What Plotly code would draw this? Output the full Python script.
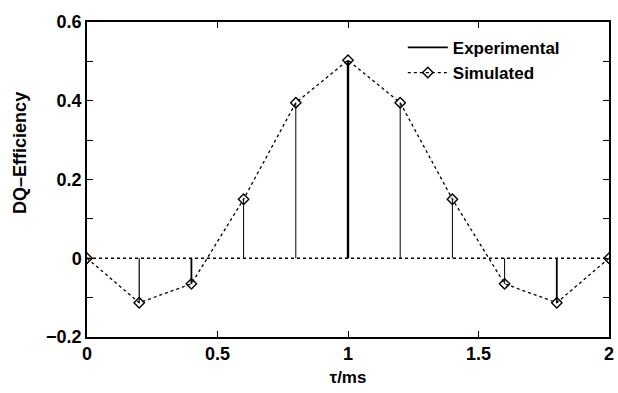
import plotly.graph_objects as go

tau = [0.0, 0.2, 0.4, 0.6, 0.8, 1.0, 1.2, 1.4, 1.6, 1.8, 2.0]
simulated = [0.0, -0.113, -0.065, 0.15, 0.395, 0.503, 0.395, 0.15, -0.065, -0.113, 0.0]
experimental = [0.0, -0.113, -0.065, 0.15, 0.395, 0.503, 0.395, 0.15, -0.065, -0.113, 0.0]
exp_widths = [1, 1.2, 1.8, 1, 1, 2.4, 1, 1, 1, 1.8, 1]

x_ticks = [0, 0.5, 1, 1.5, 2]
x_labels = ["0", "0.5", "1", "1.5", "2"]
y_ticks = [-0.2, 0, 0.2, 0.4, 0.6]
y_labels = ["\u22120.2", "0", "0.2", "0.4", "0.6"]

FONT = "Liberation Sans, Arial, sans-serif"

fig = go.Figure()

# zero dotted baseline
fig.add_trace(go.Scatter(x=[tau[0], tau[-1]], y=[0, 0], mode="lines",
                         line=dict(color="black", width=1.3, dash="dot"),
                         showlegend=False, hoverinfo="skip"))

# experimental stems
for i, (t, v) in enumerate(zip(tau, experimental)):
    fig.add_trace(go.Scatter(x=[t, t], y=[0, v], mode="lines",
                             line=dict(color="black", width=exp_widths[i]),
                             name="Experimental", legendgroup="exp",
                             showlegend=False))

# legend entry for experimental
fig.add_trace(go.Scatter(x=[None], y=[None], mode="lines",
                         line=dict(color="black", width=1.8),
                         name="<b>Experimental</b>", showlegend=True))

fig.add_trace(go.Scatter(x=tau, y=simulated, mode="lines+markers",
                         line=dict(color="black", width=1.3, dash="dot"),
                         marker=dict(symbol="diamond-open", size=8, color="black",
                                     line=dict(width=1.4, color="black")),
                         name="<b>Simulated</b>"))

axis_common = dict(showline=True, linecolor="black", linewidth=1.5, mirror="allticks",
                   ticks="inside", ticklen=6, tickwidth=1, tickcolor="black",
                   showgrid=False, zeroline=False, automargin=False,
                   tickfont=dict(family=FONT, size=18, color="black"))

fig.update_xaxes(range=[0, 2], tickvals=x_ticks,
                 ticktext=["<b>%s</b>" % s for s in x_labels],
                 title=dict(text="<b>\u03c4/ms</b>", font=dict(family=FONT, size=17, color="black"),
                            standoff=8),
                 **axis_common)
fig.update_yaxes(range=[-0.2, 0.6], tickvals=y_ticks,
                 ticktext=["<b>%s</b>" % s for s in y_labels],
                 minor=dict(dtick=0.1, ticks="inside", ticklen=6, tickcolor="black", tickwidth=1),
                 **axis_common)

fig.add_annotation(text="<b>DQ\u2013Efficiency</b>", textangle=-90,
                   xref="paper", yref="paper", x=-0.128, y=0.585,
                   xanchor="center", yanchor="middle", showarrow=False,
                   font=dict(family=FONT, size=18, color="black"))

fig.update_layout(
    width=618, height=393,
    margin=dict(l=87, r=9, t=22, b=56),
    plot_bgcolor="white", paper_bgcolor="white",
    legend=dict(x=0.605, y=0.975, xanchor="left", yanchor="top",
                bgcolor="rgba(0,0,0,0)", tracegroupgap=0,
                font=dict(family=FONT, size=17, color="black"),
                itemwidth=40),
    showlegend=True,
)

fig.write_html("out.html")
